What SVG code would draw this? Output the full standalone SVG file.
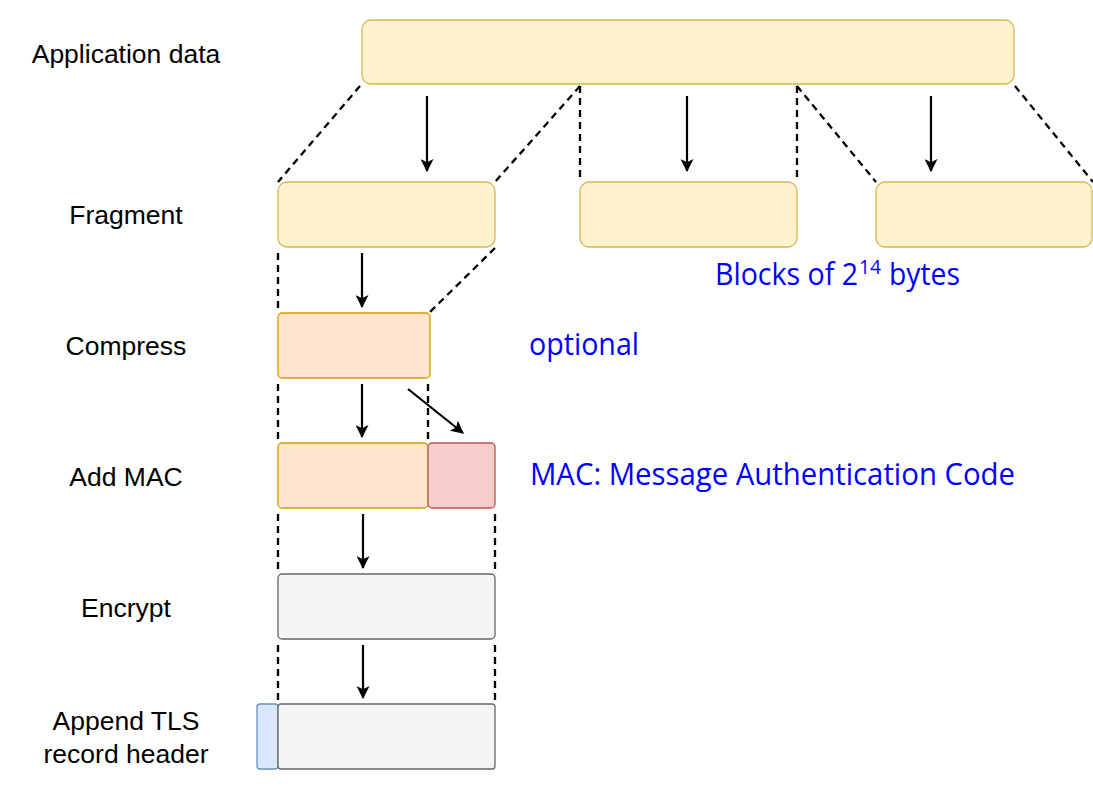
<svg xmlns="http://www.w3.org/2000/svg" width="1093" height="797" viewBox="0 0 1093 797">
<style>
.lbl{font-family:"Liberation Sans",Arial,sans-serif;font-size:26.5px;fill:#000;text-anchor:middle}
.note{font-family:"Open Sans","Noto Sans",sans-serif;font-size:31px;fill:#0000ff}
.y{fill:#fff2cc;stroke:#d6b656;stroke-width:1.3}
.o{fill:#ffe6cc;stroke:#d79b00;stroke-width:1.3}
.r{fill:#f8cecc;stroke:#b85450;stroke-width:1.3}
.g{fill:#f5f5f5;stroke:#666666;stroke-width:1.3}
.b{fill:#dae8fc;stroke:#6c8ebf;stroke-width:1.3}
.dash{stroke:#000;stroke-width:2.3;stroke-dasharray:7 5;fill:none}
.arr{stroke:#000;stroke-width:2.2;fill:none;marker-end:url(#ah)}
</style>
<defs>
<marker id="ah" viewBox="0 0 12 12" refX="11" refY="6" markerWidth="13" markerHeight="13" markerUnits="userSpaceOnUse" orient="auto">
<path d="M0,0 L12,6 L0,12 L3,6 z" fill="#000"/>
</marker>
</defs>
<rect width="1093" height="797" fill="#fff"/>

<g id="labels">
<text class="lbl" x="126" y="63">Application data</text>
<text class="lbl" x="126" y="224">Fragment</text>
<text class="lbl" x="126" y="355">Compress</text>
<text class="lbl" x="126" y="486">Add MAC</text>
<text class="lbl" x="126" y="617">Encrypt</text>
<text class="lbl" x="126" y="730">Append TLS</text>
<text class="lbl" x="126" y="763">record header</text>
</g>

<g id="connectors">
<line class="dash" x1="360" y1="86" x2="278" y2="182"/>
<line class="dash" x1="580" y1="86" x2="495" y2="182"/>
<line class="dash" x1="580" y1="86" x2="580" y2="182"/>
<line class="dash" x1="797" y1="86" x2="797" y2="182"/>
<line class="dash" x1="797" y1="86" x2="876" y2="182"/>
<line class="dash" x1="1015" y1="86" x2="1093" y2="182"/>
<line class="arr" x1="427" y1="96" x2="427" y2="171"/>
<line class="arr" x1="687" y1="96" x2="687" y2="171"/>
<line class="arr" x1="931" y1="96" x2="931" y2="171"/>

<line class="dash" x1="278" y1="253" x2="278" y2="309"/>
<line class="dash" x1="495" y1="248" x2="430" y2="312"/>
<line class="arr" x1="362" y1="253" x2="362" y2="307"/>

<line class="dash" x1="278" y1="384" x2="278" y2="440"/>
<line class="dash" x1="428" y1="384" x2="428" y2="440"/>
<line class="arr" x1="362" y1="384" x2="362" y2="437"/>
<line class="arr" x1="408" y1="389" x2="463" y2="433"/>

<line class="dash" x1="278" y1="514" x2="278" y2="570"/>
<line class="dash" x1="495" y1="514" x2="495" y2="570"/>
<line class="arr" x1="363" y1="514" x2="363" y2="568"/>

<line class="dash" x1="278" y1="645" x2="278" y2="700"/>
<line class="dash" x1="495" y1="645" x2="495" y2="700"/>
<line class="arr" x1="363" y1="645" x2="363" y2="698"/>
</g>

<g id="app-data"><rect class="y" x="362" y="20" width="652" height="64" rx="9"/></g>
<g id="frag1"><rect class="y" x="278" y="182" width="217" height="65" rx="9"/></g>
<g id="frag2"><rect class="y" x="580" y="182" width="217" height="65" rx="9"/></g>
<g id="frag3"><rect class="y" x="876" y="182" width="216" height="65" rx="9"/></g>
<g id="compress"><rect class="o" x="278" y="313" width="152" height="65" rx="4"/></g>
<g id="mac-data"><rect class="o" x="278" y="443" width="150" height="65" rx="4"/></g>
<g id="mac"><rect class="r" x="428" y="443" width="67" height="65" rx="4"/></g>
<g id="encrypt"><rect class="g" x="278" y="574" width="217" height="65" rx="4"/></g>
<g id="tls-header"><rect class="b" x="257" y="704" width="21" height="65" rx="3"/></g>
<g id="tls-record"><rect class="g" x="278" y="704" width="217" height="65" rx="3"/></g>

<g id="notes">
<text class="note" y="285"><tspan x="715" textLength="143" lengthAdjust="spacingAndGlyphs">Blocks of 2</tspan><tspan x="859" y="274" font-size="20" textLength="22" lengthAdjust="spacingAndGlyphs">14</tspan><tspan x="889" y="285" textLength="71" lengthAdjust="spacingAndGlyphs">bytes</tspan></text>
<text class="note" x="529" y="355" textLength="110" lengthAdjust="spacingAndGlyphs">optional</text>
<text class="note" x="530" y="485" textLength="485" lengthAdjust="spacingAndGlyphs">MAC: Message Authentication Code</text>
</g>
</svg>
